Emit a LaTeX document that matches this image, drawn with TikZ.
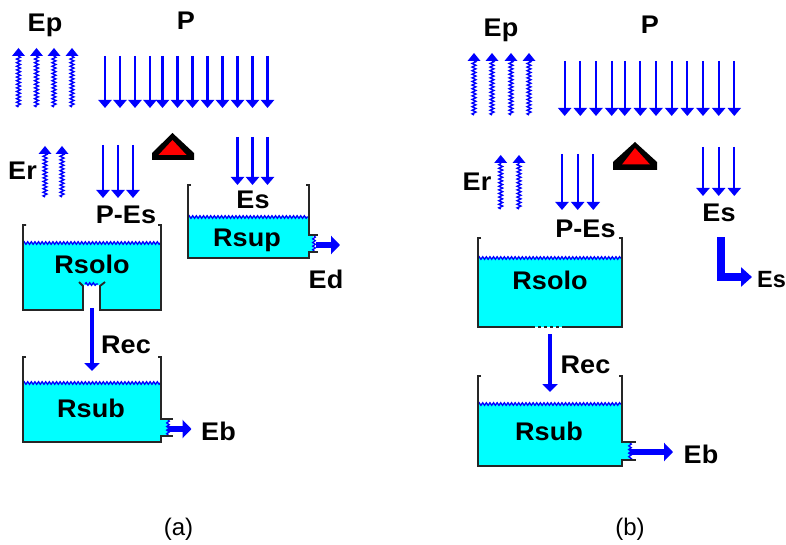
\documentclass[tikz,border=0pt]{standalone}
\usepackage{fontspec}
\setmainfont{Liberation Sans}
\newfontfamily\labfont[FakeStretch=1.06]{Liberation Sans Bold}
\usetikzlibrary{arrows.meta,decorations.pathmorphing}
\definecolor{wat}{RGB}{0,255,255}
\definecolor{flowblue}{RGB}{0,0,255}
\definecolor{tri}{RGB}{255,0,0}
\tikzset{
  x=1pt,y=-1pt,
  lab/.style={font=\fontsize{25.5}{28}\selectfont\labfont,anchor=base,inner sep=0pt,text=black},
  captionlab/.style={font=\fontsize{24}{28}\selectfont,anchor=center,inner sep=0pt},
  rainarrow/.style={draw=flowblue,line width=2.3pt,-{Triangle[width=13pt,length=8pt,fill=flowblue]}},
  vaporline/.style={draw=flowblue,line width=1.4pt,decorate,decoration={snake,segment length=3.6pt,amplitude=1.9pt}},
  vaporhead/.style={fill=flowblue},
  flow/.style={draw=flowblue,line width=6.3pt,-{Triangle[width=18pt,length=9pt,fill=flowblue]}},
  recharge/.style={draw=flowblue,line width=4.8pt,-{Triangle[width=15pt,length=8pt,fill=flowblue]}},
  wall/.style={draw=black!85,line width=1.8pt,line join=miter},
  waterbody/.style={fill=wat},
  surface/.style={draw=flowblue,line width=1.3pt,decorate,decoration={snake,segment length=3.6pt,amplitude=1.3pt}},
  triout/.style={fill=black},
  triin/.style={fill=tri},
}
\newcommand{\rainset}[4]{%
  \foreach \xx [count=\ii] in {#2}{%
    \coordinate (#1a\ii) at (\xx,#3);
    \coordinate (#1b\ii) at (\xx,#4);
    \draw[rainarrow] (#1a\ii) -- (#1b\ii);
  }}
\newcommand{\vaporset}[4]{%
  \foreach \xx [count=\ii] in {#2}{%
    \coordinate (#1a\ii) at (\xx,#3);
    \coordinate (#1b\ii) at (\xx,#4+7);
    \draw[vaporline] (#1a\ii) -- (#1b\ii);
    \fill[vaporhead] (\xx,#4) -- (\xx+6.5,#4+8) -- (\xx-6.5,#4+8) -- cycle;
  }}
\begin{document}
\begin{tikzpicture}
\useasboundingbox (0,0) rectangle (786,545);
\fill[white] (0,0) rectangle (786,545);

% ---------- panel (a)
\node[lab] (epa) at (45,32) {Ep};
\node[lab] (pa) at (186,30) {P};
\vaporset{va}{18.5,36.5,54,72}{107}{48}
\rainset{ra}{105,120,135,150,162.5,177.5,192.5,207.5,222.5,237.5,252.5,267.5}{56}{108}
\fill[triout] (172.5,133) -- (194,153) -- (194,160) -- (152,160) -- (152,153) -- cycle;
\fill[triin] (172.5,140) -- (186.5,155) -- (158.5,155) -- cycle;
\node[lab] (era) at (22.5,180) {Er};
\vaporset{wa}{45,62}{197}{146}
\rainset{sa}{103,118,133}{145}{198}
\node[lab] (pesa) at (126,224) {P-Es};
\rainset{ta}{237.5,252.5,267.5}{137}{185}
\node[lab] (esa) at (253,208) {Es};

% Rsup
\fill[waterbody] (188,217) -- (308,217) -- (308,235) -- (313,235) -- (313,252) -- (308,252) -- (308,258) -- (188,258) -- cycle;
\draw[surface] (188,217) -- (308,217);
\draw[surface] (314,236) -- (314,252);
\draw[wall] (191,185) -- (188,185) -- (188,258) -- (309,258) -- (309,252) -- (318,252);
\draw[wall] (306,185) -- (309,185) -- (309,235) -- (318,235);
\coordinate (supout) at (316,245);
\coordinate (supend) at (340,245);
\draw[flow] (supout) -- (supend);
\node[lab] (rsup) at (247,246) {Rsup};
\node[lab] (eda) at (326,288) {Ed};

% Rsolo
\fill[waterbody] (23,243) -- (161,243) -- (161,310) -- (100,310) -- (100,285) -- (83,285) -- (83,310) -- (23,310) -- cycle;
\draw[surface] (23,243) -- (161,243);
\draw[surface] (85,284) -- (98,284);
\draw[wall] (26,225) -- (23,225) -- (23,310) -- (83,310) -- (83,286) -- (79,282);
\draw[wall] (158,225) -- (161,225) -- (161,310) -- (100,310) -- (100,286) -- (105,282);
\node[lab] (rsoloa) at (92,273) {Rsolo};
\coordinate (reca1) at (92,308);
\coordinate (reca2) at (92,371);
\draw[recharge] (reca1) -- (reca2);
\node[lab] (reca) at (126,353) {Rec};

% Rsub
\fill[waterbody] (23,383) -- (161,383) -- (161,419) -- (168,419) -- (168,436) -- (161,436) -- (161,442) -- (23,442) -- cycle;
\draw[surface] (23,383) -- (161,383);
\draw[surface] (168,420) -- (168,436);
\draw[wall] (26,357) -- (23,357) -- (23,442) -- (161,442) -- (161,436) -- (173,436);
\draw[wall] (158,357) -- (161,357) -- (161,419) -- (173,419);
\coordinate (suba1) at (168,429);
\coordinate (suba2) at (191.5,429);
\draw[flow] (suba1) -- (suba2);
\node[lab] (rsuba) at (91,417) {Rsub};
\node[lab] (eba) at (218.5,440) {Eb};
\node[captionlab] (capa) at (178.5,529) {(a)};

% ---------- panel (b)
\node[lab] (epb) at (501,37) {Ep};
\node[lab] (pb) at (650,34) {P};
\vaporset{vb}{474,492,511,529}{115}{53}
\rainset{rb}{564.7,580.3,596,611.7,624.7,640.3,656,671.7,687.3,703,718.7,734.3}{61}{116}
\fill[triout] (635,142) -- (657,162) -- (657,170) -- (613,170) -- (613,162) -- cycle;
\fill[triin] (635,148) -- (650,164.5) -- (622,164.5) -- cycle;
\node[lab] (erb) at (477,191) {Er};
\vaporset{wb}{500.7,519}{209}{155}
\rainset{sb}{562,577.7,593.3}{154}{210}
\node[lab] (pesb) at (585.5,237) {P-Es};
\rainset{tb}{703,718.7,734.3}{147}{196}
\node[lab] (esb) at (719,222) {Es};
\coordinate (la) at (721,237);
\coordinate (lc) at (721,277);
\coordinate (le) at (752,277);
\draw[draw=flowblue,line width=7.5pt,line join=miter,-{Triangle[width=19pt,length=11pt,fill=flowblue]}] (la) -- (lc) -- (le);
\node[anchor=base west,inner sep=0pt,font=\fontsize{23.5}{28}\selectfont\bfseries] (esb2) at (757,287) {Es};

% Rsolo b
\fill[waterbody] (478,258) rectangle (622,327);
\draw[surface] (478,258) -- (622,258);
\draw[wall] (481,238) -- (478,238) -- (478,327) -- (532,327);
\draw[wall] (619,238) -- (622,238) -- (622,327) -- (565,327);
\draw[wall,dash pattern=on 3pt off 3pt] (532,327) -- (565,327);
\node[lab] (rsolob) at (550,289) {Rsolo};
\coordinate (recb1) at (550,334);
\coordinate (recb2) at (550,392);
\draw[recharge] (recb1) -- (recb2);
\node[lab] (recb) at (585.5,373) {Rec};

% Rsub b
\fill[waterbody] (478,404) -- (622,404) -- (622,442) -- (630,442) -- (630,460) -- (622,460) -- (622,466) -- (478,466) -- cycle;
\draw[surface] (478,404) -- (622,404);
\draw[surface] (630,443) -- (630,460);
\draw[wall] (481,376) -- (478,376) -- (478,466) -- (622,466) -- (622,460) -- (636,460);
\draw[wall] (619,376) -- (622,376) -- (622,442) -- (636,442);
\coordinate (subb1) at (630,452);
\coordinate (subb2) at (673,452);
\draw[flow] (subb1) -- (subb2);
\node[lab] (rsubb) at (549,440) {Rsub};
\node[lab] (ebb) at (701,463) {Eb};
\node[captionlab] (capb) at (630,529) {(b)};
\end{tikzpicture}
\end{document}
